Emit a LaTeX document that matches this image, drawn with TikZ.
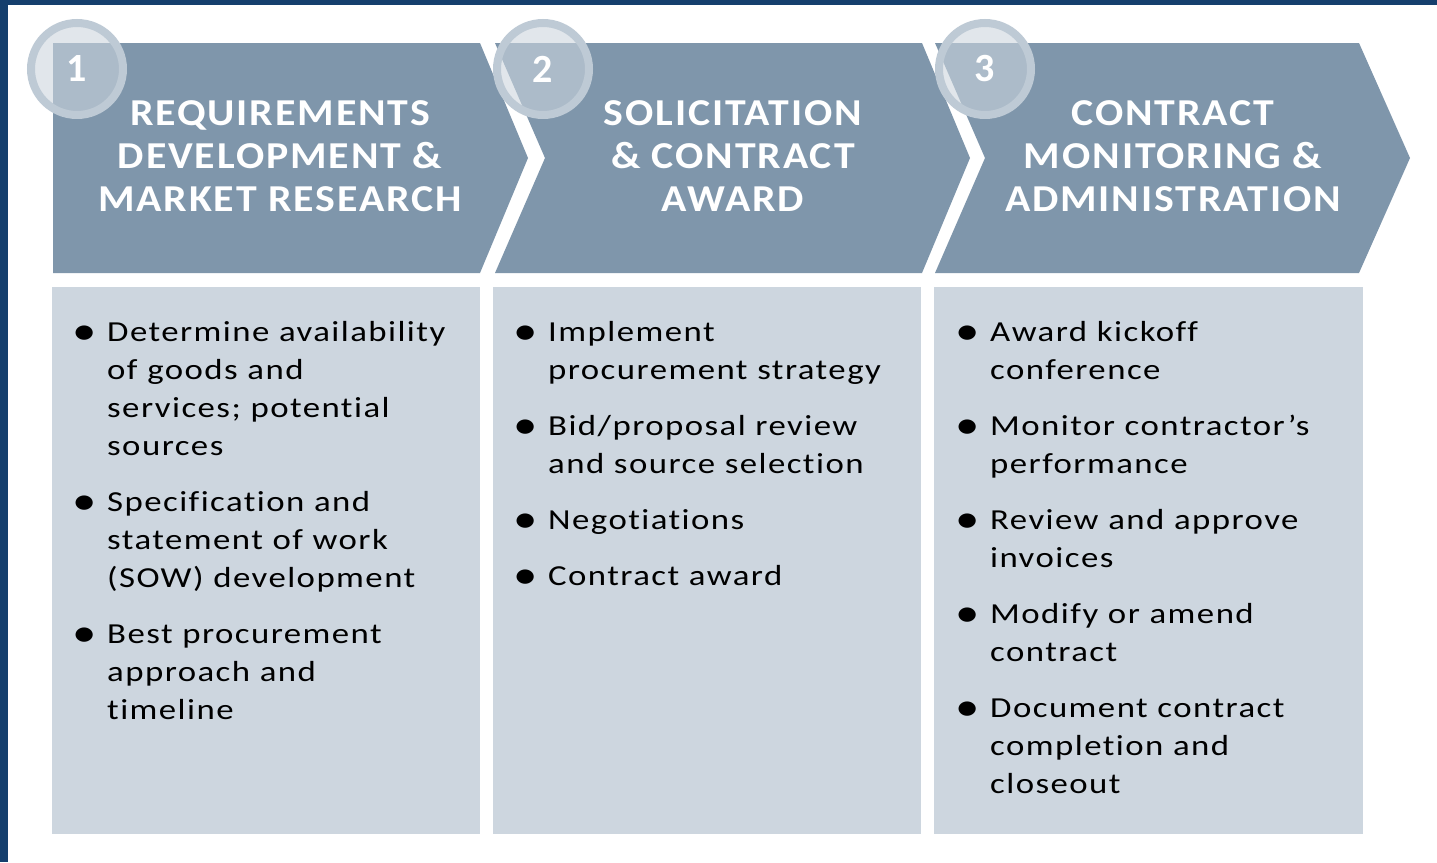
\documentclass[tikz,border=0pt]{standalone}
\usepackage{fontspec}
\setmainfont{Carlito}
\newfontfamily\headfont[FakeStretch=1.1, LetterSpace=5, Ligatures=NoCommon]{Carlito}
\newfontfamily\bodyfont[FakeStretch=1.2, LetterSpace=5, Ligatures=NoCommon]{Carlito}
\usepackage{enumitem}
\usepackage{graphicx}
\usetikzlibrary{positioning}
\definecolor{frame}{RGB}{21,63,109}
\definecolor{chev}{RGB}{127,150,171}
\definecolor{panel}{RGB}{205,214,223}
\definecolor{ring}{RGB}{190,202,213}
\definecolor{disc}{RGB}{204,214,222}
\setlist[itemize]{label=\raisebox{-3pt}{\scalebox{1.4}{\textbullet}}, leftmargin=47pt, labelsep=10pt, itemsep=18pt, topsep=0pt, parsep=0pt, partopsep=0pt}

\begin{document}
\begin{tikzpicture}[x=1pt, y=-1pt,
	head/.style={text=white, font=\headfont\bfseries\fontsize{38}{43}\selectfont, align=center},
	body/.style={anchor=base west, inner sep=0pt, text width=420pt, font=\bodyfont\fontsize{29}{38}\selectfont},
	num/.style={circle, draw=ring, line width=8pt, fill=disc, fill opacity=0.59, draw opacity=1, text opacity=1, minimum size=92pt, inner sep=0pt, text=white, font=\bfseries\fontsize{40}{40}\selectfont}]
	\useasboundingbox (0,0) rectangle (1437,862);
	\fill[white] (0,0) rectangle (1437,862);
	\fill[frame] (0,0) rectangle (1437,5);
	\fill[frame] (0,0) rectangle (8,862);

	% chevrons
	\fill[chev] (53,43) -- (480,43) -- (528,158) -- (480,273) -- (53,273) -- cycle;
	\fill[chev] (495,43) -- (922,43) -- (970,158) -- (922,273) -- (495,273) -- (545,158) -- cycle;
	\fill[chev] (935,43) -- (1359,43) -- (1410,158) -- (1359,273) -- (935,273) -- (985,158) -- cycle;

	% panels
	\fill[panel] (52,287) rectangle (480,834);
	\fill[panel] (493,287) rectangle (921,834);
	\fill[panel] (934,287) rectangle (1363,834);

	\node[head] (H1) at (280,156) {REQUIREMENTS\\DEVELOPMENT \&\\MARKET RESEARCH};
	\node[head] (H2) at (733,156) {SOLICITATION\\\& CONTRACT\\AWARD};
	\node[head] (H3) at (1173,156) {CONTRACT\\MONITORING \&\\ADMINISTRATION};

	\node[num] (N1) at (77,69) {\raisebox{-2pt}{1}};
	\node[num] (N2) at (543,69) {\raisebox{-2pt}{2}};
	\node[num] (N3) at (985,69) {\raisebox{-2pt}{3}};

	\node[body] (L1) at (60,303) {\begin{itemize}
		\item Determine availability\\of goods and\\services; potential\\sources
		\item Specification and\\statement of work\\(SOW) development
		\item Best procurement\\approach and\\timeline
	\end{itemize}};
	\node[body] (L2) at (501,303) {\begin{itemize}
		\item Implement\\procurement strategy
		\item Bid/proposal review\\and source selection
		\item Negotiations
		\item Contract award
	\end{itemize}};
	\node[body] (L3) at (943,303) {\begin{itemize}
		\item Award kickoff\\conference
		\item Monitor contractor’s\\performance
		\item Review and approve\\invoices
		\item Modify or amend\\contract
		\item Document contract\\completion and\\closeout
	\end{itemize}};
\end{tikzpicture}
\end{document}
